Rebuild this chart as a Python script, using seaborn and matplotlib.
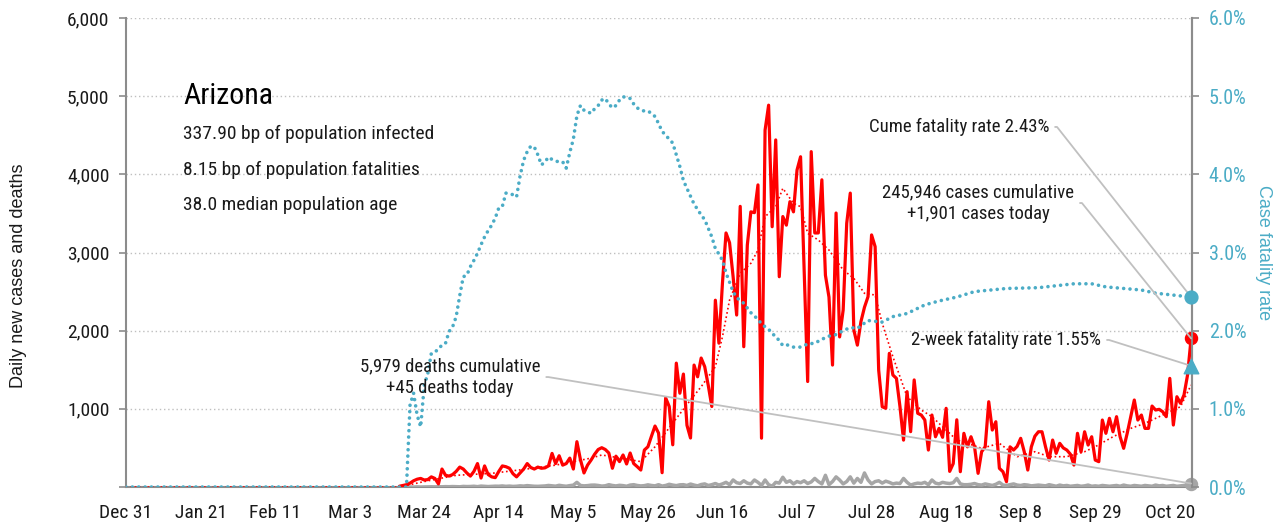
import pandas as pd
import numpy as np
import matplotlib
matplotlib.use('Agg')
import matplotlib.pyplot as plt
import seaborn as sns
from matplotlib import font_manager

# ------------------------------
# DATA
# ------------------------------

first_day = '2020-03-17'

# daily new cases, Mar 17 .. Oct 26
cases = [
    10, 20, 30, 50, 80, 100, 110, 90, 95, 130,
    110, 40, 230, 150, 140, 160, 200, 255, 230, 180,
    140, 200, 300, 115, 270, 160, 130, 120, 200, 270,
    260, 240, 170, 130, 180, 230, 300, 250, 230, 255,
    240, 245, 270, 430, 300, 400, 280, 300, 370, 230,
    580, 350, 180, 280, 345, 420, 480, 503, 480, 435,
    240, 395, 325, 410, 295, 435, 300, 260, 217, 473,
    515, 650, 780, 690, 183, 1140, 1030, 540, 1585, 1200,
    1445, 790, 627, 1560, 1410, 1650, 1540, 1300, 1030, 2390,
    1840, 2610, 3250, 3125, 2690, 2200, 3590, 1795, 3095, 3520,
    3510, 3865, 625, 4565, 4885, 3330, 4440, 2690, 3460, 3350,
    3650, 3520, 4055, 4225, 2800, 1350, 4290, 3250, 3250, 3930,
    2710, 2430, 1560, 3505, 1920, 2265, 3375, 3760, 2008, 1815,
    2115, 2300, 2435, 3225, 3075, 1495, 1027, 1007, 1710, 1433,
    1390, 1027, 600, 1220, 708, 1370, 943, 921, 857, 473,
    921, 643, 750, 636, 1007, 200, 300, 860, 196, 687,
    514, 643, 514, 175, 452, 514, 1091, 729, 835, 239,
    196, 68, 514, 473, 520, 623, 452, 217, 514, 650,
    707, 707, 514, 345, 601, 431, 559, 500, 473, 420,
    281, 687, 450, 707, 537, 643, 345, 324, 857, 687,
    879, 707, 900, 643, 495, 687, 900, 1113, 857, 921,
    750, 750, 1036, 985, 994, 963, 900, 1390, 793, 1155,
    1071, 1177, 1433, 1901,
]

# daily new deaths, Mar 17 .. Oct 26
deaths = [
    0, 0, 0, 1, 0, 2, 0, 1, 2, 3,
    2, 4, 3, 5, 4, 6, 5, 3, 8, 6,
    7, 10, 5, 12, 9, 6, 8, 11, 10, 14,
    9, 12, 8, 10, 15, 12, 18, 14, 10, 9,
    12, 14, 20, 16, 11, 22, 15, 10, 18, 24,
    60, 20, 15, 18, 24, 25, 20, 12, 16, 30,
    20, 14, 22, 18, 10, 25, 30, 20, 14, 18,
    28, 20, 15, 30, 12, 20, 35, 25, 18, 28,
    30, 20, 38, 25, 15, 32, 40, 20, 30, 45,
    25, 40, 60, 30, 90, 55, 45, 80, 50, 40,
    90, 60, 20, 90, 30, 10, 60, 50, 125, 60,
    80, 40, 70, 55, 80, 45, 65, 110, 70, 40,
    150, 30, 70, 130, 90, 40, 70, 130, 50, 110,
    60, 180, 90, 40, 70, 80, 50, 75, 60, 40,
    50, 45, 110, 60, 25, 40, 50, 45, 60, 30,
    90, 50, 40, 60, 50, 45, 55, 110, 40, 30,
    30, 35, 45, 30, 25, 40, 30, 20, 35, 60,
    25, 20, 30, 40, 25, 20, 30, 25, 15, 20,
    25, 20, 15, 30, 20, 10, 25, 15, 20, 10,
    15, 20, 10, 15, 25, 10, 15, 10, 20, 15,
    10, 15, 20, 10, 25, 15, 10, 20, 15, 10,
    20, 15, 10, 25, 15, 20, 10, 15, 20, 10,
    15, 20, 25, 45,
]

# smoothed cases (dotted red)
trend_dates = [
    '2019-12-31', '2020-03-17', '2020-03-24', '2020-04-02', '2020-04-12',
    '2020-04-21', '2020-04-30', '2020-05-10', '2020-05-13', '2020-05-19',
    '2020-05-24', '2020-05-28', '2020-06-02', '2020-06-07', '2020-06-10',
    '2020-06-14', '2020-06-16', '2020-06-18', '2020-06-21', '2020-06-24',
    '2020-06-26', '2020-06-28', '2020-07-01', '2020-07-03', '2020-07-06',
    '2020-07-08', '2020-07-10', '2020-07-13', '2020-07-16', '2020-07-20',
    '2020-07-23', '2020-07-26', '2020-07-29', '2020-07-31', '2020-08-03',
    '2020-08-07', '2020-08-11', '2020-08-14', '2020-08-18', '2020-08-21',
    '2020-08-24', '2020-08-28', '2020-09-02', '2020-09-07', '2020-09-12',
    '2020-09-16', '2020-09-21', '2020-09-26', '2020-09-29', '2020-10-04',
    '2020-10-09', '2020-10-13', '2020-10-18', '2020-10-23', '2020-10-26',
]
trend_vals = [
    0, 0, 70, 150, 175,
    225, 280, 370, 410, 365,
    325, 515, 818, 1113, 1283,
    1539, 1923, 2392, 2734, 2862,
    3032, 3458, 3586, 3821, 3629,
    3586, 3245, 3160, 3032, 2776,
    2670, 2478, 2456, 2094, 1667,
    1155, 985, 900, 729, 601,
    559, 495, 559, 388, 452,
    388, 388, 452, 516, 643,
    750, 815, 921, 1027, 1305,
]

# case fatality rate (%), daily Mar 19 .. Jul 6
cfr_first_day = '2020-03-19'
cfr_daily = [
    0.00, 1.05, 1.20, 0.92, 0.77, 1.30, 1.45, 1.71, 1.73, 1.76,
    1.82, 1.84, 1.99, 2.05, 2.18, 2.45, 2.69, 2.71, 2.82, 2.90,
    2.99, 3.10, 3.20, 3.28, 3.35, 3.44, 3.57, 3.59, 3.76, 3.75,
    3.74, 3.71, 3.98, 4.18, 4.29, 4.36, 4.35, 4.25, 4.12, 4.16,
    4.22, 4.19, 4.17, 4.16, 4.16, 4.08, 4.28, 4.45, 4.75, 4.88,
    4.82, 4.80, 4.78, 4.84, 4.88, 4.95, 4.97, 4.90, 4.85, 4.88,
    4.95, 4.99, 4.99, 4.97, 4.90, 4.85, 4.82, 4.81, 4.81, 4.78,
    4.74, 4.65, 4.55, 4.50, 4.45, 4.40, 4.25, 4.10, 3.92, 3.82,
    3.72, 3.62, 3.55, 3.48, 3.42, 3.31, 3.20, 3.05, 2.98, 2.90,
    2.74, 2.62, 2.50, 2.42, 2.39, 2.35, 2.29, 2.23, 2.19, 2.14,
    2.09, 2.05, 2.02, 1.96, 1.93, 1.87, 1.81, 1.82, 1.81, 1.79,
]
# case fatality rate (%), other readings
cfr_other_dates = [
    '2019-12-31', '2020-07-08', '2020-07-10', '2020-07-12', '2020-07-14',
    '2020-07-16', '2020-07-18', '2020-07-20', '2020-07-22', '2020-07-24',
    '2020-07-27', '2020-07-31', '2020-08-03', '2020-08-07', '2020-08-12',
    '2020-08-16', '2020-08-21', '2020-08-26', '2020-09-04', '2020-09-13',
    '2020-09-23', '2020-09-28', '2020-10-02', '2020-10-12', '2020-10-16',
    '2020-10-26',
]
cfr_other_vals = [
    0.00, 1.79, 1.83, 1.84, 1.89,
    1.93, 1.95, 2.00, 2.04, 2.03,
    2.13, 2.11, 2.18, 2.22, 2.33,
    2.38, 2.43, 2.50, 2.54, 2.55,
    2.60, 2.60, 2.56, 2.52, 2.48,
    2.43,
]

state = 'Arizona'
info_lines = [
    '337.90 bp of population infected',
    '8.15 bp of population fatalities',
    '38.0 median population age',
]
total_cases = 245946
total_deaths = 5979
cume_rate = 2.43
two_week_rate = 1.55

# ------------------------------
# FRAMES
# ------------------------------

days = pd.date_range(first_day, periods=len(cases), freq='D')
df = pd.DataFrame({'date': days, 'cases': cases, 'deaths': deaths})

trend = pd.DataFrame({'date': pd.to_datetime(trend_dates), 'trend': trend_vals})

cfr = pd.concat([
    pd.DataFrame({'date': pd.date_range(cfr_first_day, periods=len(cfr_daily), freq='D'),
                  'rate': cfr_daily}),
    pd.DataFrame({'date': pd.to_datetime(cfr_other_dates), 'rate': cfr_other_vals}),
]).sort_values('date').reset_index(drop=True)

last_day = df['date'].iloc[-1]

# ------------------------------
# STYLE
# ------------------------------

sns.set_style('white')

names = {f.name for f in font_manager.fontManager.ttflist}
narrow = next((n for n in ['Roboto Condensed', 'PT Sans Narrow', 'Archivo Narrow']
               if n in names), 'DejaVu Sans')
regular = 'Liberation Sans' if 'Liberation Sans' in names else 'DejaVu Sans'
plt.rcParams['font.family'] = [narrow, 'DejaVu Sans']

RED = '#ff0000'
BLUE = '#4bacc6'
GRAY = '#a6a6a6'
AXIS = '#8c8c8c'
LEADER = '#c0c0c0'
TEXT = '#1a1a1a'

fig = plt.figure(figsize=(12.78, 5.26), dpi=100)
fig.subplots_adjust(left=0.0986, right=0.9327, top=0.9658, bottom=0.0741)
ax = fig.add_subplot(111)
ax2 = ax.twinx()

# ------------------------------
# LEFT AXIS: CASES AND DEATHS
# ------------------------------

sns.lineplot(data=df, x='date', y='deaths', color=GRAY, lw=2.5, ax=ax, zorder=3)
sns.lineplot(data=df, x='date', y='cases', color=RED, lw=2.3, ax=ax, zorder=4)
sns.lineplot(data=trend, x='date', y='trend', color=RED, lw=1.2,
             linestyle=(0, (1, 1.6)), ax=ax, zorder=5)

ax.scatter([last_day], [df['cases'].iloc[-1]], s=75, color=RED, zorder=6, clip_on=False)
ax.scatter([last_day], [df['deaths'].iloc[-1]], s=75, color=GRAY, zorder=6, clip_on=False)

ax.set_ylim(0, 6000)
ax.set_yticks(range(0, 6001, 1000))
ax.set_yticklabels([''] + [f'{v:,}' for v in range(1000, 6001, 1000)])

tick_days = pd.date_range('2019-12-31', periods=15, freq='21D')
ax.set_xlim(pd.Timestamp('2019-12-31'), last_day + pd.Timedelta(hours=6))
ax.set_xticks(tick_days)
ax.set_xticklabels([d.strftime('%b %-d') for d in tick_days])

ax.grid(axis='y', color='#bfbfbf', linestyle=(0, (1, 2)), lw=1)
ax.grid(axis='x', visible=False)
ax.set_xlabel('')
ax.set_ylabel('')

for side in ['left', 'bottom', 'right']:
    ax.spines[side].set_color(AXIS)
    ax.spines[side].set_linewidth(1.5)
ax.spines['top'].set_visible(False)

ax.tick_params(axis='both', direction='out', length=5, width=1.2, color=AXIS,
               labelsize=14, labelcolor=TEXT, pad=7)

# ------------------------------
# RIGHT AXIS: CASE FATALITY RATE
# ------------------------------

sns.lineplot(data=cfr, x='date', y='rate', color=BLUE, lw=2.6,
             linestyle=(0, (0.01, 1.75)), dash_capstyle='round', ax=ax2, zorder=3)
ax2.scatter([last_day], [cfr['rate'].iloc[-1]], s=85, color=BLUE, zorder=6, clip_on=False)
ax2.scatter([last_day], [two_week_rate], s=110, marker='^', color=BLUE, zorder=6, clip_on=False)

ax2.set_ylim(0, 6)
ax2.set_yticks(range(0, 7))
ax2.set_yticklabels([f'{v:.1f}%' for v in range(0, 7)])
ax2.set_ylabel('')
ax2.set_xlabel('')
ax2.grid(False)
for side in ['left', 'bottom', 'top']:
    ax2.spines[side].set_visible(False)
ax2.spines['right'].set_color(AXIS)
ax2.spines['right'].set_linewidth(1.5)
ax2.tick_params(axis='y', direction='out', length=5, width=1.2, color=AXIS,
                labelsize=14.5, labelcolor=BLUE, pad=7)

fig.text(0.0141, 0.4753, 'Daily new cases and deaths', rotation=90, ha='center',
         va='center', fontsize=13, color=TEXT, family=regular)
fig.text(0.989, 0.52, 'Case fatality rate', rotation=270, ha='center',
         va='center', fontsize=13, color=BLUE, family=regular)

# ------------------------------
# TEXT BLOCK
# ------------------------------

ax.text(0.0535, 0.8166, state, transform=ax.transAxes, fontsize=21.5,
        color='#000000', va='baseline', ha='left')
for y, line in zip([0.742, 0.6652, 0.5906], info_lines):
    ax.text(0.0535, y, line, transform=ax.transAxes, fontsize=14,
            color=TEXT, va='baseline', ha='left')

# ------------------------------
# CALLOUTS
# ------------------------------

leader = dict(arrowstyle='-', color=LEADER, lw=1.3, shrinkA=2, shrinkB=0,
              connectionstyle='arc,angleA=0,armA=8,angleB=0,armB=0,rad=0')

ax2.annotate(f'Cume fatality rate {cume_rate:.2f}%',
             xy=(last_day, cfr['rate'].iloc[-1]), xytext=(0.8659, 0.7569),
             textcoords='axes fraction', ha='right', va='baseline',
             fontsize=13.5, color=TEXT, arrowprops=dict(leader, relpos=(1, 0.5)))

ax2.annotate(f'2-week fatality rate {two_week_rate:.2f}%',
             xy=(last_day, two_week_rate), xytext=(0.9146, 0.3028),
             textcoords='axes fraction', ha='right', va='baseline',
             fontsize=13.5, color=TEXT, arrowprops=dict(leader, relpos=(1, 0.5)))

ax2.annotate(f'{total_cases:,} cases cumulative\n+{df["cases"].iloc[-1]:,} cases today',
             xy=(last_day, df['cases'].iloc[-1] / 1000), xytext=(0.7992, 0.6055),
             textcoords='axes fraction', ha='center', va='center', multialignment='center',
             fontsize=13.5, linespacing=1.3, color=TEXT,
             arrowprops=dict(leader, relpos=(1, 0.5)))

ax2.annotate(f'{total_deaths:,} deaths cumulative\n+{df["deaths"].iloc[-1]:,} deaths today',
             xy=(last_day, df['deaths'].iloc[-1] / 1000), xytext=(0.3039, 0.2345),
             textcoords='axes fraction', ha='center', va='center', multialignment='center',
             fontsize=13.5, linespacing=1.3, color=TEXT,
             arrowprops=dict(leader, relpos=(1, 0.5)))

plt.savefig('out.png', dpi=100)
